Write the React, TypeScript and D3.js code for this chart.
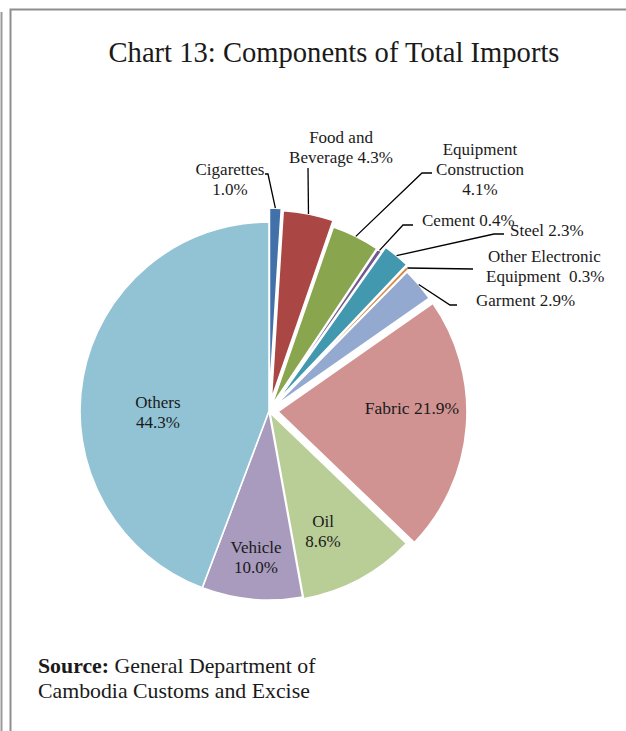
import { useMemo } from 'react';
import * as d3 from 'd3';

// Slice order runs clockwise from 12 o'clock, as in the original chart.
const categories = [
    'Cigarettes',
    'Food and Beverage',
    'Equipment Construction',
    'Cement',
    'Steel',
    'Other Electronic Equipment',
    'Garment',
    'Fabric',
    'Oil',
    'Vehicle',
    'Others',
];

// Slice sizes as drawn (%). The drawn Oil wedge is the 10% one and Vehicle the 8.6% one,
// even though the printed labels say the opposite, so the labels are kept apart below.
const shares = [1.0, 4.3, 4.1, 0.4, 2.3, 0.3, 2.9, 21.9, 10.0, 8.6, 44.3];

// Label text exactly as printed on the chart (one entry per line).
const labelText: string[][] = [
    ['Cigarettes', '1.0%'],
    ['Food and', 'Beverage 4.3%'],
    ['Equipment', 'Construction', '4.1%'],
    ['Cement 0.4%'],
    ['Steel 2.3%'],
    ['Other Electronic', 'Equipment\u00a0\u00a00.3%'],
    ['Garment 2.9%'],
    ['Fabric 21.9%'],
    ['Oil', '8.6%'],
    ['Vehicle', '10.0%'],
    ['Others', '44.3%'],
];

const colors = [
    '#4270A8', '#AA4643', '#89A54E', '#71588F', '#4198AF', '#DB843D',
    '#93A9CF', '#D19392', '#B9CD96', '#A99BBD', '#91C3D5',
];

// how far each slice is pulled out of the pie (px)
const explode = [14, 12, 6, 6, 12, 10, 7, 9, 2, 0, 0];

// label layout: anchor x, first baseline, text-anchor, leader elbow points (after the slice point)
const labelLayout: { x: number; y: number; anchor: string; leader?: [number, number][] }[] = [
    { x: 230, y: 175, anchor: 'middle', leader: [[268, 174], [265, 174]] },
    { x: 341, y: 143, anchor: 'middle', leader: [[308, 168]] },
    { x: 480, y: 155, anchor: 'middle', leader: [[422, 173], [432, 173]] },
    { x: 422, y: 226, anchor: 'start', leader: [[403, 225], [413, 225]] },
    { x: 510, y: 236, anchor: 'start', leader: [[494, 234], [504, 234]] },
    { x: 488, y: 262, anchor: 'start', leader: [[473, 269]] },
    { x: 476, y: 306, anchor: 'start', leader: [[450, 305], [457, 305]] },
    { x: 412, y: 414, anchor: 'middle' },
    { x: 323, y: 527, anchor: 'middle' },
    { x: 256, y: 553, anchor: 'middle' },
    { x: 158, y: 408, anchor: 'middle' },
];

const width = 626;
const height = 731;
const cx = 269;
const cy = 411;
const radius = 189;
const serif = '"Liberation Serif", "Times New Roman", serif';
const textColor = '#1a1a1a';

export default function App() {
    const arcs = useMemo(() => {
        const pie = d3.pie<number>().sort(null).value(d => d)
            .startAngle(0).endAngle(2 * Math.PI);
        return pie(shares);
    }, []);

    const arc = d3.arc<d3.PieArcDatum<number>>().innerRadius(0).outerRadius(radius);
    const line = d3.line();

    return (
        <svg
            width={width}
            height={height}
            style={{ position: 'fixed', left: 0, top: 0, background: '#fff' }}
        >
            <rect width={width} height={height} fill="#fff" />
            {/* page frame */}
            <line x1={1.5} y1={12} x2={1.5} y2={height} stroke="#9a9a9a" strokeWidth={2} />
            <path d={`M10.5,${height} V9.5 H${width + 2}`} fill="none" stroke="#8e8e8e" strokeWidth={2} />

            <text x={334} y={62} textAnchor="middle" fontFamily={serif} fontSize={28.6} fill={textColor}>
                Chart 13: Components of Total Imports
            </text>

            <g transform={`translate(${cx},${cy})`}>
                {arcs.map((a, i) => {
                    const mid = (a.startAngle + a.endAngle) / 2;
                    const dx = explode[i] * Math.sin(mid);
                    const dy = -explode[i] * Math.cos(mid);
                    return (
                        <path
                            key={categories[i]}
                            d={arc(a) ?? ''}
                            transform={`translate(${dx},${dy})`}
                            fill={colors[i]}
                            stroke="#fff"
                            strokeWidth={1.6}
                            strokeLinejoin="round"
                        />
                    );
                })}
            </g>

            {/* leader lines */}
            {arcs.map((a, i) => {
                const lay = labelLayout[i];
                if (!lay.leader) return null;
                const mid = (a.startAngle + a.endAngle) / 2;
                const rr = radius + explode[i];
                const start: [number, number] = [cx + rr * Math.sin(mid), cy - rr * Math.cos(mid)];
                return (
                    <path
                        key={'l' + i}
                        d={line([start, ...lay.leader]) ?? ''}
                        fill="none"
                        stroke="#000"
                        strokeWidth={1.3}
                    />
                );
            })}

            {/* labels */}
            {labelText.map((lines, i) => {
                const lay = labelLayout[i];
                return (
                    <text
                        key={'t' + i}
                        fontFamily={serif}
                        fontSize={i === 7 ? 17.5 : 17}
                        fill={textColor}
                        textAnchor={lay.anchor}
                    >
                        {lines.map((s, j) => (
                            <tspan key={j} x={lay.x - (i === 5 && j === 1 ? 2 : 0)} y={lay.y + j * 20}>
                                {s}
                            </tspan>
                        ))}
                    </text>
                );
            })}

            <text x={38} y={673} fontFamily={serif} fontSize={21.8} fill={textColor}>
                <tspan fontWeight="bold">Source:</tspan> General Department of
            </text>
            <text x={38} y={698} fontFamily={serif} fontSize={21.8} fill={textColor}>
                Cambodia Customs and Excise
            </text>
        </svg>
    );
}
